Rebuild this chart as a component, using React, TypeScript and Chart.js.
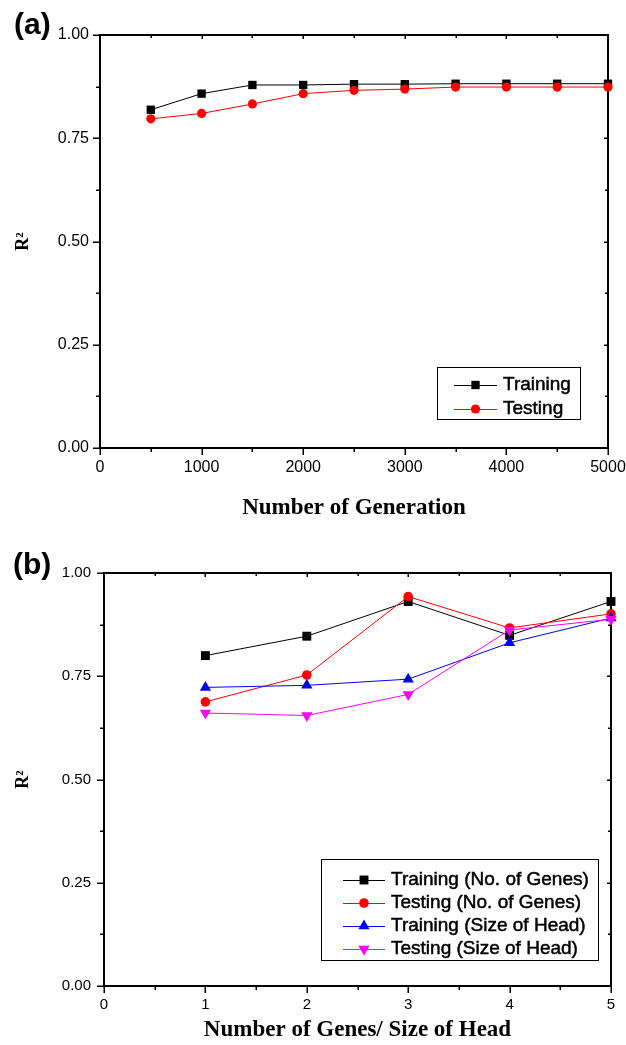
import React, { useEffect, useRef } from "react";
import { Chart, registerables } from "chart.js";

Chart.register(...registerables);

// ---------- Data: panel (a) ----------
const generations = [500, 1000, 1500, 2000, 2500, 3000, 3500, 4000, 4500, 5000];
const trainingGen = [0.819, 0.858, 0.879, 0.879, 0.881, 0.881, 0.882, 0.882, 0.882, 0.882];
const testingGen = [0.797, 0.81, 0.833, 0.858, 0.866, 0.869, 0.874, 0.874, 0.874, 0.874];

// ---------- Data: panel (b) ----------
const genesHead = [1, 2, 3, 4, 5];
const trainingGenes = [0.8, 0.847, 0.931, 0.849, 0.931];
const testingGenes = [0.688, 0.753, 0.943, 0.867, 0.901];
const trainingHead = [0.723, 0.728, 0.743, 0.831, 0.891];
const testingHead = [0.661, 0.655, 0.706, 0.862, 0.888];

const labelsA = ["Training", "Testing"];
const labelsB = [
  "Training (No. of Genes)",
  "Testing (No. of Genes)",
  "Training (Size of Head)",
  "Testing (Size of Head)",
];

const SANS = "'Liberation Sans', Arial, sans-serif";
const SERIF = "'Liberation Serif', 'Times New Roman', serif";

function drawMarker(ctx: CanvasRenderingContext2D, style: string, rot: number, r: number, x: number, y: number, color: string) {
  ctx.save();
  ctx.fillStyle = color;
  ctx.beginPath();
  if (style === "rect") {
    const s = Math.SQRT1_2 * r;
    ctx.rect(x - s, y - s, 2 * s, 2 * s);
  } else if (style === "circle") {
    ctx.arc(x, y, r, 0, Math.PI * 2);
  } else if (style === "triangle") {
    let rad = (rot * Math.PI) / 180;
    ctx.moveTo(x + Math.sin(rad) * r, y - Math.cos(rad) * r);
    rad += (2 * Math.PI) / 3;
    ctx.lineTo(x + Math.sin(rad) * r, y - Math.cos(rad) * r);
    rad += (2 * Math.PI) / 3;
    ctx.lineTo(x + Math.sin(rad) * r, y - Math.cos(rad) * r);
    ctx.closePath();
  }
  ctx.fill();
  ctx.restore();
}

const framePlugin = {
  id: "frame",
  beforeDatasetsDraw(chart: any, _args: any, opts: any) {
    const { ctx, chartArea: a, scales } = chart;
    const xs = scales.x;
    const ys = scales.y;
    ctx.save();
    ctx.strokeStyle = "#000";
    ctx.lineWidth = 1.5;
    ctx.beginPath();
    const nx = Math.round((xs.max - xs.min) / opts.xStep);
    for (let i = 0; i <= nx; i++) {
      const v = xs.min + i * opts.xStep;
      const px = Math.round(xs.getPixelForValue(v)) + 0.25;
      const major = i % 2 === 0;
      const out = major ? 7 : 4;
      const inn = major ? 4 : 3;
      ctx.moveTo(px, a.bottom);
      ctx.lineTo(px, a.bottom + out);
      ctx.moveTo(px, a.top);
      ctx.lineTo(px, a.top + inn);
    }
    const ny = Math.round((ys.max - ys.min) / opts.yStep);
    for (let i = 0; i <= ny; i++) {
      const v = ys.min + i * opts.yStep;
      const py = Math.round(ys.getPixelForValue(v)) + 0.25;
      const major = i % 2 === 0;
      const out = major ? 7 : 4;
      const inn = major ? 4 : 3;
      ctx.moveTo(a.left, py);
      ctx.lineTo(a.left - out, py);
      ctx.moveTo(a.right, py);
      ctx.lineTo(a.right - inn, py);
    }
    ctx.stroke();
    ctx.lineWidth = 2;
    ctx.strokeRect(a.left, a.top, a.right - a.left, a.bottom - a.top);
    ctx.restore();
  },
};

const boxLegendPlugin = {
  id: "boxLegend",
  afterDatasetsDraw(chart: any, _args: any, opts: any) {
    const { ctx } = chart;
    const ds = chart.data.datasets;
    ctx.save();
    ctx.fillStyle = "#fff";
    ctx.fillRect(opts.box[0], opts.box[1], opts.box[2] - opts.box[0], opts.box[3] - opts.box[1]);
    ctx.strokeStyle = "#000";
    ctx.lineWidth = 1;
    ctx.strokeRect(opts.box[0] + 0.5, opts.box[1] + 0.5, opts.box[2] - opts.box[0], opts.box[3] - opts.box[1]);
    ds.forEach((d: any, i: number) => {
      const y = opts.rows[i];
      ctx.strokeStyle = d.borderColor;
      ctx.lineWidth = 1;
      ctx.beginPath();
      ctx.moveTo(opts.lineX[0], y + 0.5);
      ctx.lineTo(opts.lineX[1], y + 0.5);
      ctx.stroke();
      drawMarker(ctx, d.pointStyle, d.pointRotation || 0, d.pointRadius, (opts.lineX[0] + opts.lineX[1]) / 2, y, d.borderColor);
      ctx.fillStyle = "#000";
      ctx.strokeStyle = "#000";
      ctx.lineWidth = 0.5;
      ctx.font = opts.font;
      ctx.textBaseline = "middle";
      ctx.textAlign = "left";
      ctx.fillText(d.label, opts.textX, y);
      ctx.strokeText(d.label, opts.textX, y);
    });
    ctx.restore();
  },
};

function makeDataset(label: string, xs: number[], ys: number[], color: string, style: string, radius: number, rotation: number, order: number) {
  return {
    label,
    data: xs.map((x, i) => ({ x, y: ys[i] })),
    borderColor: color,
    backgroundColor: color,
    pointBackgroundColor: color,
    pointBorderColor: color,
    pointBorderWidth: 0,
    borderWidth: 1,
    pointStyle: style,
    pointRadius: radius,
    pointRotation: rotation,
    pointHoverRadius: radius,
    tension: 0,
    clip: false,
    order,
  };
}

function makeOptions(p: any) {
  return {
    responsive: false,
    animation: false,
    devicePixelRatio: 1,
    events: [],
    layout: { padding: { top: p.padTop, right: p.padRight, left: 0, bottom: 0 } },
    plugins: {
      legend: { display: false },
      tooltip: { enabled: false },
      frame: { xStep: p.xMinor, yStep: 0.125 },
      boxLegend: p.legend,
    },
    scales: {
      x: {
        type: "linear",
        position: "bottom",
        min: p.xMin,
        max: p.xMax,
        grid: { display: false, drawTicks: false, tickLength: 0 },
        border: { display: false },
        ticks: {
          stepSize: p.xStep,
          color: "#000",
          font: { family: SANS, size: p.tickSize },
          padding: p.xTickPad,
          maxRotation: 0,
          autoSkip: false,
          callback: (v: any) => String(v),
        },
        title: {
          display: true,
          text: p.xTitle,
          color: "#000",
          font: { family: SERIF, size: 23, weight: "bold" },
          padding: { top: 0, bottom: p.xTitlePad },
        },
        afterFit: (s: any) => {
          s.height = p.xAxisH;
          s.paddingLeft = 0;
          s.paddingRight = 0;
        },
      },
      y: {
        type: "linear",
        position: "left",
        min: 0,
        max: 1,
        grid: { display: false, drawTicks: false, tickLength: 0 },
        border: { display: false },
        ticks: {
          stepSize: 0.25,
          color: "#000",
          font: { family: SANS, size: p.tickSize },
          padding: p.yTickPad,
          callback: (v: any) => Number(v).toFixed(2),
        },
        title: {
          display: true,
          text: "R²",
          color: "#000",
          font: { family: SERIF, size: 18, weight: "bold" },
          padding: { top: 13, bottom: 0 },
        },
        afterFit: (s: any) => {
          s.width = p.yAxisW;
          s.paddingTop = 0;
          s.paddingBottom = 0;
        },
      },
    },
  };
}

export default function App() {
  const refA = useRef<HTMLCanvasElement | null>(null);
  const refB = useRef<HTMLCanvasElement | null>(null);

  useEffect(() => {
    const chartA = new Chart(refA.current as HTMLCanvasElement, {
      type: "line",
      data: {
        datasets: [
          makeDataset(labelsA[0], generations, trainingGen, "#000000", "rect", 5.9, 0, 1),
          makeDataset(labelsA[1], generations, testingGen, "#ff0000", "circle", 4.6, 0, 0),
        ],
      },
      options: makeOptions({
        padTop: 35,
        padRight: 18,
        xMin: 0,
        xMax: 5000,
        xStep: 1000,
        xMinor: 500,
        tickSize: 16,
        xTickPad: 10,
        yTickPad: 11,
        xTitle: "Number of Generation",
        xTitlePad: 8,
        xAxisH: 82,
        yAxisW: 100,
        legend: {
          box: [437, 367, 580, 419],
          rows: [385, 409],
          lineX: [454, 497],
          textX: 503,
          font: `19px ${SANS}`,
        },
      }) as any,
      plugins: [framePlugin, boxLegendPlugin],
    } as any);

    const chartB = new Chart(refB.current as HTMLCanvasElement, {
      type: "line",
      data: {
        datasets: [
          makeDataset(labelsB[0], genesHead, trainingGenes, "#000000", "rect", 6.3, 0, 3),
          makeDataset(labelsB[1], genesHead, testingGenes, "#ff0000", "circle", 4.8, 0, 2),
          makeDataset(labelsB[2], genesHead, trainingHead, "#0000ff", "triangle", 6.5, 0, 1),
          makeDataset(labelsB[3], genesHead, testingHead, "#ff00ff", "triangle", 6.5, 180, 0),
        ],
      },
      options: makeOptions({
        padTop: 38,
        padRight: 15,
        xMin: 0,
        xMax: 5,
        xStep: 1,
        xMinor: 0.5,
        tickSize: 15,
        xTickPad: 10,
        yTickPad: 13,
        xTitle: "Number of Genes/ Size of Head",
        xTitlePad: 1,
        xAxisH: 59,
        yAxisW: 104,
        legend: {
          box: [321, 324, 598, 425],
          rows: [345, 368, 391, 414],
          lineX: [343, 385],
          textX: 391,
          font: `19px ${SANS}`,
        },
      }) as any,
      plugins: [framePlugin, boxLegendPlugin],
    } as any);

    return () => {
      chartA.destroy();
      chartB.destroy();
    };
  }, []);

  const panelLabel: React.CSSProperties = {
    position: "absolute",
    fontFamily: SANS,
    fontWeight: "bold",
    fontSize: "30px",
    lineHeight: "30px",
    color: "#000",
    margin: 0,
  };

  return (
    <div style={{ position: "absolute", left: 0, top: 0, width: 626, height: 1045, background: "#fff", overflow: "hidden" }}>
      <canvas ref={refA} width={626} height={530} style={{ position: "absolute", left: 0, top: 0 }} />
      <canvas ref={refB} width={626} height={510} style={{ position: "absolute", left: 0, top: 535 }} />
      <div style={{ ...panelLabel, left: 14, top: 9 }}>(a)</div>
      <div style={{ ...panelLabel, left: 13, top: 549 }}>(b)</div>
    </div>
  );
}
